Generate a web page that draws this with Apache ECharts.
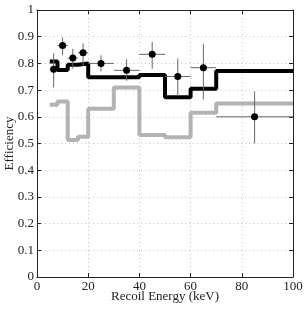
<!DOCTYPE html>
<html><head><meta charset="utf-8">
<script src="https://cdn.jsdelivr.net/npm/echarts@6/dist/echarts.min.js"></script>
<style>html,body{margin:0;padding:0;background:#fff}#c{width:306px;height:309px}</style>
</head><body><div id="c"></div>
<script>
var stepStarts = [5, 8, 12, 16, 20, 30, 40, 50, 60, 70];
var stepEnd = 100;
var blackVals = [0.807, 0.775, 0.795, 0.800, 0.748, 0.748, 0.757, 0.673, 0.705, 0.772];
var grayVals  = [0.645, 0.657, 0.513, 0.525, 0.630, 0.710, 0.532, 0.523, 0.615, 0.650];
var ptX   = [6.5, 10, 14, 18, 25, 35, 45, 55, 65, 85];
var ptY   = [0.778, 0.867, 0.820, 0.840, 0.800, 0.774, 0.834, 0.751, 0.784, 0.600];
var ptXlo = [5, 8, 12, 16, 20, 30, 40, 50, 60, 70];
var ptXhi = [8, 12, 16, 20, 30, 40, 50, 60, 70, 100];
var ptYlo = [0.710, 0.830, 0.780, 0.790, 0.770, 0.735, 0.780, 0.680, 0.665, 0.500];
var ptYhi = [0.838, 0.897, 0.855, 0.875, 0.830, 0.815, 0.880, 0.818, 0.873, 0.695];
var xTicks = [0, 20, 40, 60, 80, 100];
var yTickLabels = ['0','0.1','0.2','0.3','0.4','0.5','0.6','0.7','0.8','0.9','1'];

function stepData(vals){
  var d = stepStarts.map(function(x,i){return [x, vals[i]];});
  d.push([stepEnd, vals[vals.length-1]]);
  return d;
}
var errData = ptX.map(function(x,i){return [x, ptY[i], ptXlo[i], ptXhi[i], ptYlo[i], ptYhi[i]];});
var font = 'Liberation Serif';
var chart = echarts.init(document.getElementById('c'), null, {renderer:'canvas'});
var gridLine = {show:true, lineStyle:{color:'#c4c4c4', type:[1,3], width:1}};
chart.setOption({
  animation:false,
  grid:{left:37, right:13, top:10, bottom:32, containLabel:false, outerBoundsMode:'none'},
  xAxis:[{
    type:'value', min:0, max:100, interval:20, position:'bottom',
    name:'Recoil Energy (keV)', nameLocation:'middle', nameGap:13, nameMoveOverlap:false,
    nameTextStyle:{fontFamily:font, fontSize:13, color:'#222'},
    axisLine:{show:true, lineStyle:{color:'#222', width:1}},
    axisTick:{show:true, inside:true, length:4, lineStyle:{color:'#222'}},
    axisLabel:{fontFamily:font, fontSize:13, color:'#222', margin:3, formatter:function(v){return xTicks.indexOf(v)>=0?String(v):'';}},
    splitLine:gridLine
  },{
    type:'value', min:0, max:100, interval:20, position:'top',
    axisLine:{show:true, onZero:false, lineStyle:{color:'#222', width:1}},
    axisTick:{show:true, inside:true, length:4, lineStyle:{color:'#222'}},
    axisLabel:{show:false}, splitLine:{show:false}
  }],
  yAxis:[{
    type:'value', min:0, max:1, interval:0.1, position:'left',
    name:'Efficiency', nameLocation:'middle', nameGap:21, nameMoveOverlap:false,
    nameTextStyle:{fontFamily:font, fontSize:13, color:'#222'},
    axisLine:{show:true, lineStyle:{color:'#222', width:1}},
    axisTick:{show:true, inside:true, length:4, lineStyle:{color:'#222'}},
    axisLabel:{fontFamily:font, fontSize:13, color:'#222', margin:3, formatter:function(v){return yTickLabels[Math.round(v*10)];}},
    splitLine:gridLine
  },{
    type:'value', min:0, max:1, interval:0.1, position:'right',
    axisLine:{show:true, onZero:false, lineStyle:{color:'#222', width:1}},
    axisTick:{show:true, inside:true, length:4, lineStyle:{color:'#222'}},
    axisLabel:{show:false}, splitLine:{show:false}
  }],
  series:[
    {type:'line', step:'end', data:stepData(grayVals), symbol:'none', lineStyle:{color:'#b3b3b3', width:4}, z:2},
    {type:'line', step:'end', data:stepData(blackVals), symbol:'none', lineStyle:{color:'#000', width:4}, z:3},
    {type:'custom', data:errData, z:4,
      renderItem:function(params, api){
        var xl = api.coord([api.value(2), api.value(1)]);
        var xh = api.coord([api.value(3), api.value(1)]);
        var yl = api.coord([api.value(0), api.value(4)]);
        var yh = api.coord([api.value(0), api.value(5)]);
        var st = {stroke:'#666', lineWidth:1};
        return {type:'group', children:[
          {type:'line', shape:{x1:xl[0], y1:xl[1], x2:xh[0], y2:xh[1]}, style:st},
          {type:'line', shape:{x1:yl[0], y1:yl[1], x2:yh[0], y2:yh[1]}, style:st}
        ]};
      }},
    {type:'scatter', data:ptX.map(function(x,i){return [x, ptY[i]];}), symbol:'circle', symbolSize:7, itemStyle:{color:'#000', opacity:1}, z:5}
  ]
});
</script></body></html>
